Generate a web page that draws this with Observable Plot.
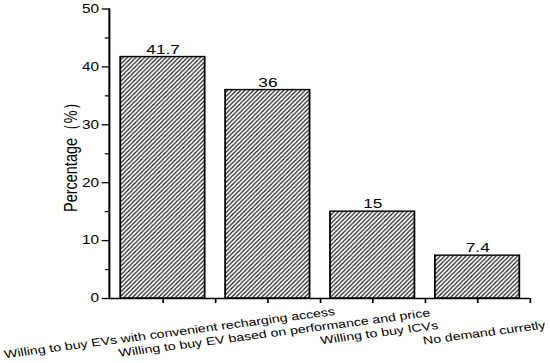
<!DOCTYPE html>
<html>
<head>
<meta charset="utf-8">
<script src="https://cdn.jsdelivr.net/npm/d3@7"></script>
<script src="https://cdn.jsdelivr.net/npm/@observablehq/plot@0.6"></script>
<style>
  html, body { margin: 0; padding: 0; background: white; }
  #chart svg { display: block; }
</style>
</head>
<body>
<svg width="0" height="0" style="position:absolute">
  <defs>
    <pattern id="hatch" patternUnits="userSpaceOnUse" width="3.36" height="4.3">
      <path d="M0,4.3L3.36,0M-3.36,4.3L3.36,-4.3M0,8.6L6.72,0" stroke="#111" stroke-width="0.95" fill="none"/>
    </pattern>
  </defs>
</svg>
<div id="chart"></div>
<script>
const categories = [
  "Willing to buy EVs with convenient recharging access",
  "Willing to buy EV based on performance and price",
  "Willing to buy ICVs",
  "No demand curretly"
];
const values = [41.7, 36, 15, 7.4];
const yTicks = [0, 10, 20, 30, 40, 50];
const yMinorTicks = [5, 15, 25, 35, 45];
const yTitle = "Percentage（%）";

const data = categories.map((c, i) => ({category: c, value: values[i]}));

const W = 430, H = 363, ML = 85, MR = 16;
const step = (W - ML - MR) / categories.length;
const font = "'Liberation Sans', Arial, Helvetica, sans-serif";

const chart = Plot.plot({
  width: W,
  height: H,
  marginLeft: ML,
  marginRight: MR,
  marginTop: 8.5,
  marginBottom: 65,
  style: {fontFamily: font, fontSize: "11px", color: "black", background: "white"},
  x: {domain: categories, paddingInner: 0.2, paddingOuter: 0.1, axis: null},
  y: {domain: [0, 50], axis: null},
  marks: [
    Plot.barY(data, {x: "category", y: "value", fill: "url(#hatch)", stroke: "black", strokeWidth: 1.4}),
    Plot.text(data, {x: "category", y: "value", text: d => String(d.value), lineAnchor: "bottom", dy: -3.5, fontSize: 13.5, fill: "black"}),
    Plot.ruleY([0], {stroke: "black", strokeWidth: 1.4}),
    Plot.frame({anchor: "left", stroke: "black", strokeWidth: 1.6}),
    Plot.axisY({ticks: yTicks, tickSize: 5.5, tickPadding: 2.5, fontSize: 12, label: null, strokeWidth: 1.3}),
    Plot.axisY({ticks: yMinorTicks, tickSize: 3, tickFormat: () => "", label: null, strokeWidth: 1.3}),
    Plot.axisX({tickSize: 5, tickFormat: () => "", label: null, strokeWidth: 1.3}),
    Plot.axisX({tickSize: 5, tickFormat: () => "", label: null, strokeWidth: 1.3, dx: step / 2}),
    Plot.text(categories, {x: d => d, y: d => 0, dx: 5, dy: 34.5, rotate: -9.5, fontSize: 11.1, fill: "black"}),
    Plot.text([yTitle], {frameAnchor: "left", textAnchor: "middle", text: d => d, dx: -30, rotate: -90, fontSize: 14.5, fill: "black"})
  ]
});

chart.setAttribute("width", 550);
chart.setAttribute("height", 363);
chart.setAttribute("preserveAspectRatio", "none");
chart.style.maxWidth = "none";
chart.style.width = "550px";
chart.style.height = "363px";
document.getElementById("chart").appendChild(chart);
</script>
</body>
</html>
